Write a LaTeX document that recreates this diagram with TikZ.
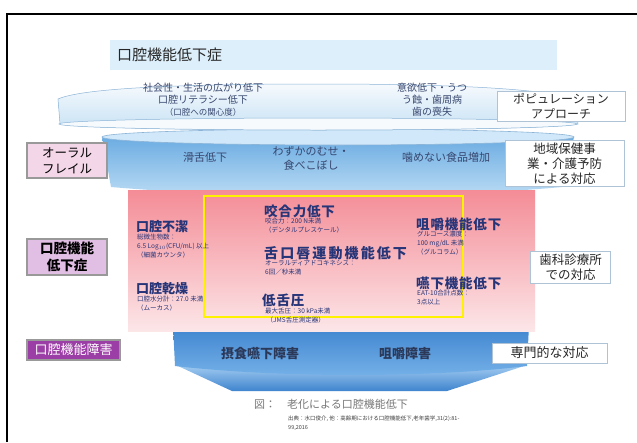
\documentclass[tikz,border=0pt]{standalone}
\usepackage{fontspec}
\setmainfont{Noto Sans CJK JP}
\definecolor{navyT}{RGB}{55,70,110}
\definecolor{hdrC}{RGB}{38,52,120}
\definecolor{titleBg}{RGB}{221,239,251}
\definecolor{bandA}{RGB}{246,250,253}
\definecolor{bandB}{RGB}{196,224,244}
\definecolor{rimC}{RGB}{140,180,215}
\definecolor{btwoTop}{RGB}{108,172,226}
\definecolor{btwoBot}{RGB}{190,222,245}
\definecolor{btwoRim}{RGB}{208,232,249}
\definecolor{bthreeTop}{RGB}{62,132,206}
\definecolor{bthreeBot}{RGB}{118,178,233}
\definecolor{pinkTop}{RGB}{244,140,150}
\definecolor{pinkBot}{RGB}{252,230,232}
\definecolor{lboxA}{RGB}{243,214,232}
\definecolor{lboxB}{RGB}{225,190,228}
\definecolor{lboxC}{RGB}{155,62,165}
\definecolor{rboxBd}{RGB}{175,195,215}
\definecolor{capC}{RGB}{120,120,120}
\newcommand\fsz[2]{\fontsize{#1}{#2}\selectfont}
\begin{document}
\begin{tikzpicture}[x=1pt,y=-1pt,
  bandtxt/.style={text=navyT,font=\fsz{10}{12},align=center,inner sep=0pt},
  midtxt/.style={text=navyT,font=\fsz{11}{14},align=center,inner sep=0pt},
  hdr/.style={text=hdrC,font=\bfseries\fsz{13.5}{15}\addfontfeature{LetterSpace=6},anchor=west,inner sep=0pt},
  subt/.style={text=hdrC,font=\fsz{6.5}{9},anchor=north west,align=left,inner sep=0pt},
  lbox/.style={draw=gray!80,line width=1.2pt,minimum width=80pt,align=center,inner sep=2pt},
  rbox/.style={draw=rboxBd,fill=white,line width=0.6pt,align=center,inner sep=2pt,text=black!85}]
\useasboundingbox (0,0) rectangle (637,442);
\fill[white] (0,0) rectangle (637,442);
% frame
\draw[line width=1.6pt] (7,442) -- (7,14) -- (637,14);
% title bar
\fill[titleBg] (110,40) rectangle (557,70);
\node[anchor=west,inner sep=0pt,font=\fsz{15}{18},text=black!85] (title) at (117,55) {口腔機能低下症};
% band 3 (bottom)
\shade[top color=bthreeBot!70!white, bottom color=bthreeTop] (178,366) -- (232,391) -- (447,391) -- (524,366) -- cycle;
\shade[top color=bthreeTop, bottom color=bthreeBot] (173,325) -- (175,366) .. controls (280,378) and (430,378) .. (527,366) -- (529,325) -- cycle;
% band 2
\shade[top color=btwoTop, bottom color=btwoBot] (102,137) -- (111,187) .. controls (250,199) and (430,199) .. (562,187) -- (574,137) -- cycle;
\fill[btwoRim,draw=rimC,line width=0.6pt] (338,137) ellipse [x radius=236,y radius=8];
% band 1 (top)
\shade[top color=bandA, bottom color=bandB, draw=rimC, line width=0.5pt] (58,99) .. controls (85,87) and (200,84) .. (320,84) .. controls (440,84) and (548,88) .. (577,100) -- (578,124) .. controls (540,132) and (100,132) .. (60,124) -- cycle;
\draw[rimC,line width=0.5pt,fill=bandA] (318,124) ellipse [x radius=259,y radius=6];
% pink region
\shade[top color=pinkTop, bottom color=pinkBot] (128,190) rectangle (535,331);
\draw[yellow,line width=2pt] (204,196) rectangle (463,317);
% band 1 texts
\node[bandtxt] (t1a) at (203,100) {社会性・生活の広がり低下\\口腔リテラシー低下\\{\fsz{8.5}{10}（口腔への関心度）}};
\node[bandtxt] (t1b) at (432,100) {意欲低下・うつ\\う蝕・歯周病\\歯の喪失};
% band 2 texts
\node[midtxt] (t2a) at (205,157) {滑舌低下};
\node[midtxt] (t2b) at (311,158) {わずかのむせ・\\食べこぼし};
\node[midtxt] (t2c) at (446,157) {噛めない食品増加};
% pink texts
\node[hdr,font=\bfseries\fsz{13}{15}] (h1) at (136,227) {口腔不潔};
\node[subt] (s1) at (137,234) {総微生物数：\\6.5 Log$_{10}$(CFU/mL) 以上\\（細菌カウンタ）};
\node[hdr,font=\bfseries\fsz{13}{15}] (h2) at (136,289) {口腔乾燥};
\node[subt] (s2) at (137,296) {口腔水分計：27.0 未満\\（ムーカス）};
\node[hdr] (h3) at (264,211) {咬合力低下};
\node[subt] (s3) at (265,218) {咬合力：200 N未満\\（デンタルプレスケール）};
\node[hdr,font=\bfseries\fsz{14}{16}\addfontfeature{LetterSpace=15}] (h4) at (264,253) {舌口唇運動機能低下};
\node[subt] (s4) at (265,260) {オーラルディアドコキネシス：\\6回／秒未満};
\node[hdr] (h5) at (262,300) {低舌圧};
\node[subt] (s5) at (265,308) {最大舌圧：30 kPa未満\\\ （JMS舌圧測定器）};
\node[hdr] (h6) at (416,224) {咀嚼機能低下};
\node[subt] (s6) at (417,231) {グルコース濃度：\\100 mg/dL 未満\\（グルコラム）};
\node[hdr] (h7) at (416,283) {嚥下機能低下};
\node[subt] (s7) at (417,290) {EAT-10合計点数：\\3点以上};
% band 3 texts
\node[text=navyT!80!black,font=\bfseries\fsz{13}{15},inner sep=0pt] (b3a) at (260,354) {摂食嚥下障害};
\node[text=navyT!80!black,font=\bfseries\fsz{13}{15},inner sep=0pt] (b3b) at (405,354) {咀嚼障害};
% left boxes
\node[lbox,fill=lboxA,font=\fsz{12.5}{16},minimum height=35pt] (l1) at (67,160.5) {オーラル\\フレイル};
\node[lbox,fill=lboxB,font=\bfseries\fsz{13.5}{17},minimum height=36pt] (l2) at (67,257) {口腔機能\\低下症};
\node[lbox,fill=lboxC,text=white,font=\fsz{13}{15},minimum width=93pt,minimum height=20pt] (l3) at (73.5,350) {口腔機能障害};
% right boxes
\node[rbox,font=\fsz{12}{15},minimum width=128pt,minimum height=30pt] (r1) at (561,106) {ポピュレーション\\アプローチ};
\node[rbox,font=\fsz{12.5}{15},minimum width=119pt,minimum height=45pt] (r2) at (564.5,163.5) {地域保健事\\業・介護予防\\による対応};
\node[rbox,font=\fsz{12.5}{15.5},minimum width=80pt,minimum height=32pt] (r3) at (570.5,267) {歯科診療所\\での対応};
\node[rbox,font=\fsz{13}{15},minimum width=115pt,minimum height=20pt] (r4) at (549.5,353) {専門的な対応};
% caption
\node[anchor=west,inner sep=0pt,text=capC,font=\fsz{11}{13}] (cap) at (254,404) {図：\quad 老化による口腔機能低下};
\node[anchor=north west,inner sep=0pt,align=left,text=black!75,font=\fsz{5.5}{9}] (src) at (288,416) {出典：水口俊介, 他：高齢期における口腔機能低下,老年歯学,31(2):81-\\99,2016};
\end{tikzpicture}
\end{document}
